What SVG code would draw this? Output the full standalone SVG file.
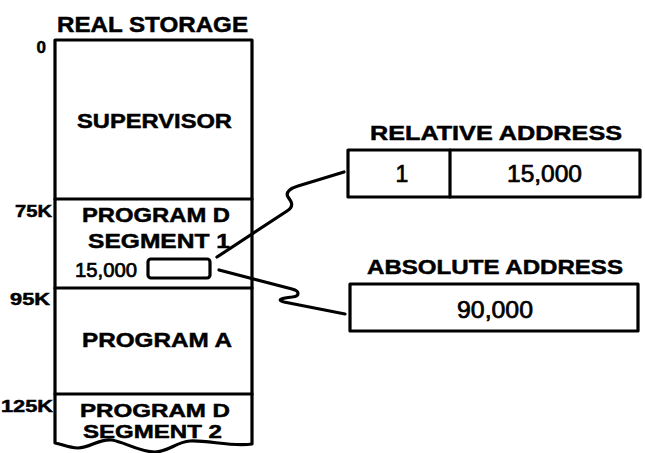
<svg xmlns="http://www.w3.org/2000/svg" width="645" height="453" viewBox="0 0 645 453">
<style>
.ln{fill:none;stroke:#000;stroke-width:3.2;stroke-linejoin:round;stroke-linecap:round}
.bx{fill:#fff;stroke:#000;stroke-width:3.2;stroke-linejoin:round}
.t{font-family:"Liberation Sans",Arial,Helvetica,sans-serif;font-weight:bold;fill:#000;stroke:#000;stroke-width:0.5}
.lbl{font-size:21px}
.ad{font-size:17px}
.num{font-family:"Liberation Sans",Arial,Helvetica,sans-serif;font-weight:normal;fill:#000;stroke:#000;stroke-width:0.7}
</style>
<rect width="645" height="453" fill="#fff"/>
<text class="t" x="57" y="32" font-size="22" textLength="191" lengthAdjust="spacingAndGlyphs">REAL STORAGE</text>
<g id="storage">
<path class="bx" d="M55,443 L55,40 L252,40 L252,444 C232,447 208,440 190,441 C176,442 168,452 155,452 C140,452 124,442 112,440 C100,438 90,448 78,448 C68,448 62,444 55,443 Z"/>
<g id="addr-labels">
<text class="t ad" x="46" y="53" text-anchor="end">0</text>
<text class="t ad" x="15" y="217" textLength="37" lengthAdjust="spacingAndGlyphs">75K</text>
<text class="t ad" x="10" y="305" textLength="40" lengthAdjust="spacingAndGlyphs">95K</text>
<text class="t ad" x="1" y="412" textLength="52" lengthAdjust="spacingAndGlyphs">125K</text>
</g>
<g id="supervisor">
<text class="t lbl" x="77" y="128" textLength="155" lengthAdjust="spacingAndGlyphs">SUPERVISOR</text>
</g>
<g id="program-d-seg1">
<line class="ln" x1="55" y1="199" x2="252" y2="199"/>
<text class="t lbl" x="82" y="222" textLength="148" lengthAdjust="spacingAndGlyphs">PROGRAM D</text>
<text class="t lbl" x="88" y="248" textLength="142" lengthAdjust="spacingAndGlyphs">SEGMENT 1</text>
<text class="num" x="75" y="277" font-size="20" textLength="62" lengthAdjust="spacingAndGlyphs">15,000</text>
</g>
<g id="location-15000">
<rect class="bx" x="148" y="259" width="62" height="19" rx="3"/>
</g>
<g id="program-a">
<line class="ln" x1="55" y1="288" x2="252" y2="288"/>
<text class="t lbl" x="82" y="347" textLength="150" lengthAdjust="spacingAndGlyphs">PROGRAM A</text>
</g>
<g id="program-d-seg2">
<line class="ln" x1="55" y1="394" x2="252" y2="394"/>
<text class="t" x="80" y="417" font-size="19" textLength="150" lengthAdjust="spacingAndGlyphs">PROGRAM D</text>
<text class="t" x="83" y="438" font-size="19" textLength="139" lengthAdjust="spacingAndGlyphs">SEGMENT 2</text>
</g>
</g>
<g id="relative-address">
<text class="t" x="370" y="140" font-size="21" textLength="252" lengthAdjust="spacingAndGlyphs">RELATIVE ADDRESS</text>
<rect class="bx" x="348" y="150" width="292" height="47"/>
<line class="ln" x1="450" y1="150" x2="450" y2="197"/>
<text class="num" x="402" y="182" font-size="23" text-anchor="middle">1</text>
<text class="num" x="507" y="182" font-size="23" textLength="75" lengthAdjust="spacingAndGlyphs">15,000</text>
</g>
<g id="absolute-address">
<text class="t" x="367" y="274" font-size="21" textLength="256" lengthAdjust="spacingAndGlyphs">ABSOLUTE ADDRESS</text>
<rect class="bx" x="350" y="284" width="288" height="47"/>
<text class="num" x="457" y="318" font-size="23" textLength="76" lengthAdjust="spacingAndGlyphs">90,000</text>
</g>
<g id="connectors">
<path class="ln" d="M217,257 L287,211 C295,206 291,201 288,197 C285,192 291,188 298,186 L344,172"/>
<path class="ln" d="M219,270 L292,289 C300,291 300,296 292,297 C282,298 276,300 284,302 L345,314"/>
</g>
</svg>
